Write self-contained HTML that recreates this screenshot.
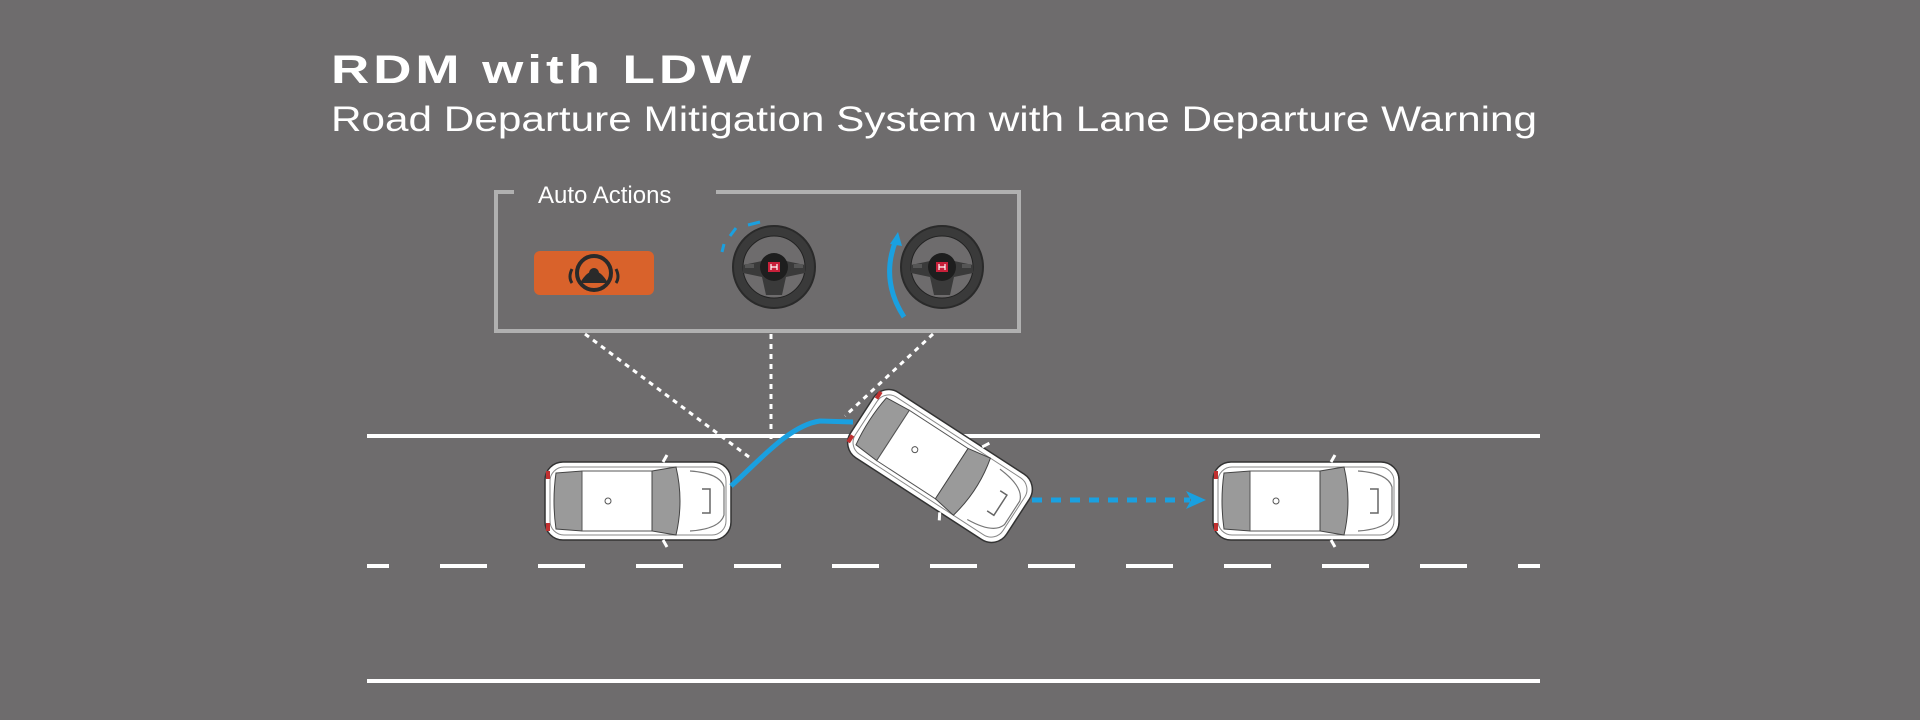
<!DOCTYPE html>
<html><head><meta charset="utf-8"><style>
html,body{margin:0;padding:0;background:#6e6c6d;}
svg{display:block}
</style></head><body>
<svg width="1920" height="720" viewBox="0 0 1920 720" xmlns="http://www.w3.org/2000/svg">
<defs>
<g id="car">
<rect x="-93" y="-39" width="186" height="78" rx="18" fill="#fff" stroke="#333" stroke-width="1.5"/>
<rect x="-88" y="-34" width="176" height="68" rx="14" fill="none" stroke="#888" stroke-width="1"/>
<path d="M-82,-28 L-56,-30 L-56,30 L-82,28 Q-86,0 -82,-28Z" fill="#9a9a9a" stroke="#444" stroke-width="1"/>
<rect x="-56" y="-30" width="70" height="60" fill="#fff" stroke="#555" stroke-width="1"/>
<path d="M14,-30 L38,-34 Q46,0 38,34 L14,30Z" fill="#9a9a9a" stroke="#444" stroke-width="1"/>
<path d="M52,-30 Q82,-28 86,-14 L86,14 Q82,28 52,30" fill="none" stroke="#777" stroke-width="1.2"/>
<path d="M64,-12 L72,-12 L72,12 L64,12" fill="none" stroke="#666" stroke-width="1.5"/>
<circle cx="-30" cy="0" r="3" fill="none" stroke="#555"/>
<rect x="-92" y="-30" width="4" height="8" fill="#c03030"/>
<rect x="-92" y="22" width="4" height="8" fill="#c03030"/>
<path d="M25,-39 l4,-7 M25,39 l4,7" stroke="#fff" stroke-width="3"/>
</g>
<g id="wheel">
<circle r="41" fill="#3a3a3a"/>
<circle r="41" fill="none" stroke="#2a2a2a" stroke-width="2"/>
<circle r="31" fill="#6e6c6d" stroke="#222" stroke-width="1"/>
<path d="M-31,-2 L-12,-6 L12,-6 L31,-2 L31,6 L12,10 L8,28 L-8,28 L-12,10 L-31,6Z" fill="#3a3a3a"/>
<circle r="14" fill="#1e1e1e"/>
<rect x="-6" y="-5" width="12" height="10" fill="#c8203a"/>
<path d="M-3,-3 v6 M3,-3 v6 M-3,0 h6" stroke="#fff" stroke-width="1.2"/>
<rect x="-29" y="-3" width="9" height="4" fill="#555"/><rect x="20" y="-3" width="9" height="4" fill="#555"/>
</g>
</defs>
<text x="331" y="83" font-family="Liberation Sans, sans-serif" font-weight="bold" font-size="40" fill="#fff" textLength="424" lengthAdjust="spacingAndGlyphs" letter-spacing="3">RDM with LDW</text>
<text x="331" y="131" font-family="Liberation Sans, sans-serif" font-size="35" fill="#fff" textLength="1206" lengthAdjust="spacingAndGlyphs">Road Departure Mitigation System with Lane Departure Warning</text>

<path d="M514,192 L496,192 L496,331 L1019,331 L1019,192 L716,192" fill="none" stroke="#b0b0b0" stroke-width="4"/>
<text x="538" y="203" font-family="Liberation Sans, sans-serif" font-size="24" fill="#fff">Auto Actions</text>
<rect x="534" y="251" width="120" height="44" rx="6" fill="#d9622b"/>
<g transform="translate(594,273)">
<circle r="17" fill="none" stroke="#2a2a2a" stroke-width="4"/>
<path d="M-14,10 Q0,-14 14,10 Z" fill="#2a2a2a"/><circle r="5" fill="#2a2a2a"/>
<path d="M-22,-4 q-4,8 0,14 M22,-4 q4,8 0,14" stroke="#2a2a2a" stroke-width="3" fill="none"/>
</g>
<use href="#wheel" transform="translate(774,267)"/>
<use href="#wheel" transform="translate(942,267)"/>
<path d="M722,252 L724,244 M730,236 l6,-8 M748,225 l12,-3" stroke="#1aa0e0" stroke-width="3" fill="none"/>
<path d="M904,317 Q880,280 896,240" stroke="#1aa0e0" stroke-width="5" fill="none"/>
<path d="M890,244 L898,232 L902,246Z" fill="#1aa0e0"/>

<path d="M585,334 L749,457 M771,334 L771,441 M933,334 L845,416" stroke="#fff" stroke-width="3" stroke-dasharray="5,5" fill="none"/>

<line x1="367" y1="436" x2="1540" y2="436" stroke="#fff" stroke-width="4"/>
<line x1="367" y1="566" x2="1540" y2="566" stroke="#fff" stroke-width="4" stroke-dasharray="22,51 47,51 47,51 47,51 47,51 47,51 47,51 47,51 47,51 47,51 47,51 47,51 47,51 47,51 47,51 47,51 47,51 47,51 47,51 47,51"/>
<line x1="367" y1="681" x2="1540" y2="681" stroke="#fff" stroke-width="4"/>

<use href="#car" transform="translate(638,501)"/>
<use href="#car" transform="translate(1306,501)"/>
<use href="#car" transform="translate(940,466) rotate(33)"/>

<path d="M731,486 C760,460 790,425 820,421 L853,422" stroke="#1aa0e0" stroke-width="5" fill="none"/>
<line x1="1032" y1="500" x2="1190" y2="500" stroke="#1aa0e0" stroke-width="5" stroke-dasharray="10,9"/>
<path d="M1186,491 L1206,500 L1186,509 L1191,500Z" fill="#1aa0e0"/>
</svg>
</body></html>
